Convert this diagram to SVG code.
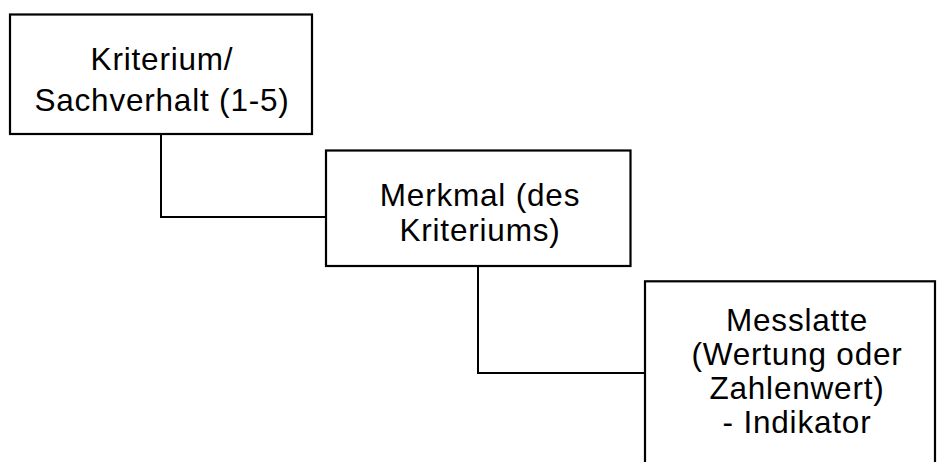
<svg xmlns="http://www.w3.org/2000/svg" width="937" height="462" viewBox="0 0 937 462">
<style>
.box{fill:#fff;stroke:#000;stroke-width:2.2}
.lbl{font-family:"Liberation Sans",Arial,sans-serif;font-size:31.5px;fill:#000;text-anchor:middle;letter-spacing:0.8px}
.con{fill:none;stroke:#000;stroke-width:2}
</style>
<rect width="937" height="462" fill="#fff"/>
<g id="connectors">
<path class="con" d="M161 134 V217 H326"/>
<path class="con" d="M478 266 V373 H645"/>
</g>
<g id="n1">
<rect class="box" x="10" y="14.5" width="302" height="119.5"/>
<text class="lbl" x="162" y="70">Kriterium/</text>
<text class="lbl" x="162" y="111">Sachverhalt (1-5)</text>
</g>
<g id="n2">
<rect class="box" x="326" y="150.5" width="304.5" height="115.5"/>
<text class="lbl" x="480" y="206">Merkmal (des</text>
<text class="lbl" x="480" y="241">Kriteriums)</text>
</g>
<g id="n3">
<rect class="box" x="645" y="281.3" width="290" height="200"/>
<text class="lbl" x="797" y="331">Messlatte</text>
<text class="lbl" x="797" y="365">(Wertung oder</text>
<text class="lbl" x="797" y="399">Zahlenwert)</text>
<text class="lbl" x="797" y="433">- Indikator</text>
</g>
</svg>
